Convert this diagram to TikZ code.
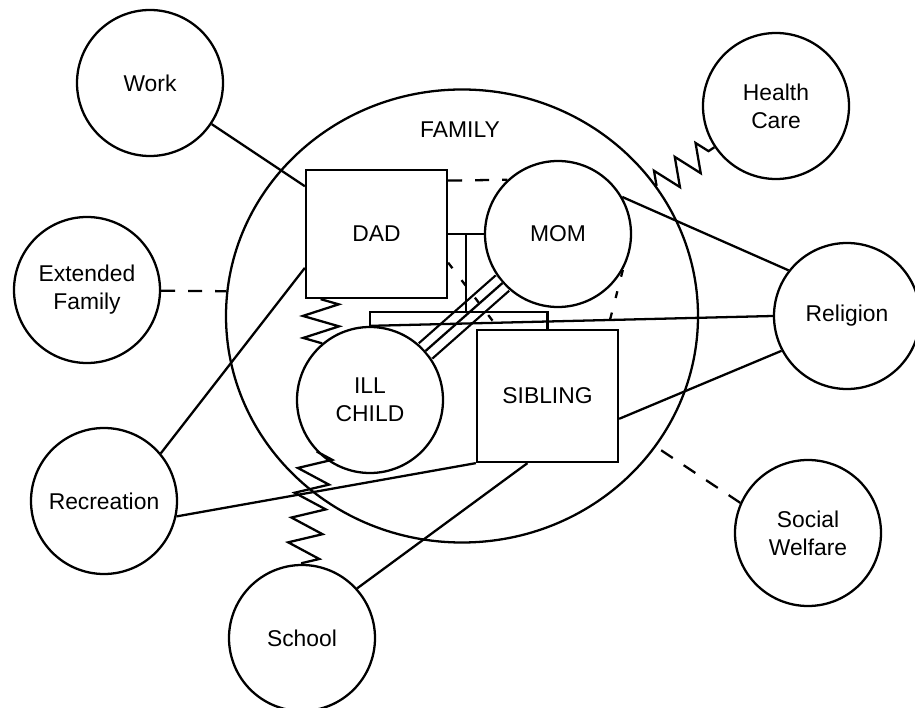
\documentclass[tikz,border=0pt]{standalone}
\usepackage{fontspec}
\setmainfont{Liberation Sans}
\usetikzlibrary{shapes.geometric,decorations.pathmorphing,calc}

\begin{document}
\begin{tikzpicture}[
  line width=1.3pt, font=\fontsize{13}{16}\selectfont,
  sys/.style={draw, circle, minimum size=2.92cm, align=center, inner sep=1pt},
  mem/.style={draw, rectangle, minimum width=2.82cm, minimum height=2.56cm},
  weak/.style={dash pattern=on 0.28cm off 0.26cm},
  weaker/.style={dash pattern=on 0.14cm off 0.3cm},
  zz/.style={decorate, decoration={zigzag, segment length=0.5cm, amplitude=0.32cm}}]
  \useasboundingbox (0,0) rectangle (18.3,14.14);
  \node[draw, ellipse, minimum width=9.44cm, minimum height=9.06cm] (fam) at (9.24,7.82) {};
  \node (famlbl) at (9.2,11.54) {FAMILY};
  \node[sys] (work) at (3.0,12.48) {Work};
  \node[sys] (ext) at (1.74,8.34) {Extended\\Family};
  \node[sys] (rec) at (2.08,4.12) {Recreation};
  \node[sys] (sch) at (6.04,1.38) {School};
  \node[sys] (hc) at (15.52,12.02) {Health\\Care};
  \node[sys] (rel) at (16.94,7.82) {Religion};
  \node[sys] (sw) at (16.16,3.48) {Social\\Welfare};
  \node[mem] (dad) at (7.53,9.46) {DAD};
  \node[sys] (mom) at (11.16,9.46) {MOM};
  \node[sys] (ch) at (7.4,6.14) {ILL\\CHILD};
  \node[mem, minimum height=2.64cm] (sib) at (10.95,6.22) {SIBLING};
  \draw[double distance=0.36cm] (mom) -- (ch); \draw (mom) -- (ch);
  \draw (work) -- (dad);
  \draw[weak] (ext) -- (fam.174);
  \draw (rec.40) -- ($(dad.south west)!0.24!(dad.north west)$);
  \draw (rec.-12) -- (sib.south west);
  \draw (sch.42) -- ($(sib.south west)!0.36!(sib.south east)$);
  \draw[zz, decoration={segment length=0.5cm, amplitude=0.33cm}] (ch.224) -- (sch.north);
  \draw[weak] (sw.156) -- (fam.-34);
  \draw (rel.208) -- ($(sib.north east)!0.67!(sib.south east)$);
  \draw (rel.west) -- (ch.north);
  \draw (mom.30) -- (rel.142);
  \draw[zz, decoration={segment length=0.5cm, amplitude=0.28cm}] (fam) -- (hc);
  \draw[zz, decoration={segment length=0.44cm, amplitude=0.36cm}] ($(dad.south west)!0.11!(dad.south east)$) -- (ch.131);
  \draw[weak] ($(dad.north east)!0.09!(dad.south east)$) -- (mom.133);
  \draw (dad.east) -- (mom.west);
  \coordinate (m) at ($(dad.east)!0.5!(mom.west)$);
  \coordinate (b) at ($(m)+(0,-1.56)$);
  \draw (m) -- (b); \draw (ch.north) |- (b) -| (sib.north);
  \draw[weaker] ($(dad.north east)!0.72!(dad.south east)$) -- ($(sib.north west)!0.16!(sib.north east)$);
  \draw[weaker] (mom.-29) -- ($(sib.north west)!0.92!(sib.north east)$);
\end{tikzpicture}
\end{document}
